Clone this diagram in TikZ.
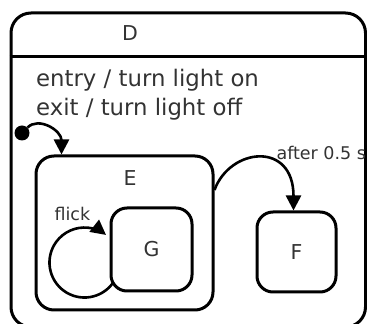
\documentclass[tikz,border=0pt]{standalone}
\usepackage{fontspec}
\setmainfont{DejaVu Sans}
\usetikzlibrary{arrows.meta, positioning, calc}

\begin{document}
\begin{tikzpicture}[x=1pt, y=1pt,
  state/.style={rectangle, draw, line width=3pt, rounded corners=16pt, inner sep=0pt},
  lbl/.style={text=black!80, font=\fontsize{20.5}{24}\selectfont},
  small/.style={text=black!80, font=\fontsize{17.5}{21}\selectfont},
  trans/.style={-{Triangle[length=15pt, width=15pt]}, line width=2.6pt}
]
  \useasboundingbox (0,0) rectangle (367,324);

  % composite state D with its header
  \node[state, rounded corners=20pt, minimum width=354.5pt, minimum height=314pt] (D) at (188.25,154) {};
  \draw[line width=3pt] (D.west |- 0,267) -- (D.east |- 0,267);
  \node[lbl, anchor=base] (Dname) at (130,283) {D};
  \node[text=black!80, font=\fontsize{22.8}{29}\selectfont, align=left, anchor=north west, inner sep=0pt] (acts) at (36,255.5) {entry / turn light on\\exit / turn light off};

  % substates
  \node[state, rounded corners=18pt, minimum width=177pt, minimum height=154pt] (E) at (124.5,91) {};
  \node[lbl, anchor=base] (Ename) at (130,138) {E};
  \node[state, lbl, minimum width=81pt, minimum height=83pt] (G) at (151.5,74.5) {G};
  \node[state, lbl, minimum width=79pt, minimum height=80pt] (F) at (296.5,72) {F};

  \node[circle, fill, inner sep=0pt, minimum size=15pt] (init) at (22,191) {};

  % transitions
  \draw[trans] (init) to[out=45, in=90, out distance=16pt, in distance=24pt] ([xshift=27pt]E.north west);
  \draw[trans] ([yshift=43pt]E.east) to[out=70, in=90, out distance=45pt, in distance=70pt] ([xshift=-3pt]F.north);
  \node[small, anchor=base west] (after) at (273,164) {after 0.5 s};
  \draw[trans] ([shift={(3.3pt,9.4pt)}]G.south west) arc[start angle=-36, end angle=-308, radius=35pt];
  \node[small, anchor=base west] (flick) at (51,103) {flick};
\end{tikzpicture}
\end{document}
